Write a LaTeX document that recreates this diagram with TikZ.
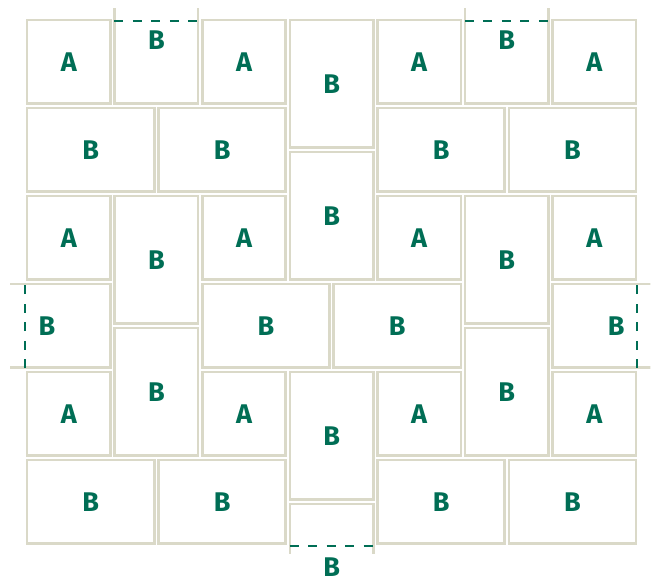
\documentclass[tikz,border=0pt]{standalone}
\usepackage{fontspec}
\setsansfont{Fira Sans}
\definecolor{verd}{RGB}{0,110,85}
\definecolor{beix}{RGB}{218,217,200}

\begin{document}
\begin{tikzpicture}[x=87.6pt, y=88pt,
    rajola/.style={draw=beix, line width=2.6pt},
    tall/.style={verd, line width=2.2pt, dash pattern=on 9pt off 9.5pt},
    lletra/.style={text=verd, inner sep=0pt, font=\sffamily\bfseries\fontsize{27}{27}\selectfont}]
    \useasboundingbox (-0.2854,-0.3977) rectangle (7.2032,6.2045);

    % Rajoles A (quadrades)
    \foreach \x/\y [count=\i] in {0/5,2/5,4/5,6/5,0/3,2/3,4/3,6/3,0/1,2/1,4/1,6/1} {
        \draw[rajola] (\x+0.025,\y+0.025) rectangle (\x+0.975,\y+0.975);
        \node[lletra] (A\i) at (\x+0.5,\y+0.5) {A};
    }

    % Rajoles B senceres
    \foreach \xa/\ya/\xb/\yb [count=\i] in {0/4/1.5/5, 1.5/4/3/5, 4/4/5.5/5, 5.5/4/7/5,
            0/0/1.5/1, 1.5/0/3/1, 4/0/5.5/1, 5.5/0/7/1,
            2/2/3.5/3, 3.5/2/5/3,
            1/2.5/2/4, 1/1/2/2.5, 5/2.5/6/4, 5/1/6/2.5,
            3/4.5/4/6, 3/3/4/4.5, 3/0.5/4/2} {
        \draw[rajola] (\xa+0.025,\ya+0.025) rectangle (\xb-0.025,\yb-0.025);
        \node[lletra] (B\i) at ({(\xa+\xb)/2},{(\ya+\yb)/2}) {B};
    }

    % Rajoles B tallades per la vora
    \begin{scope}
        \clip (0.9,4.9) rectangle (2.1,6.11);
        \draw[rajola] (1.025,5.025) rectangle (1.975,6.475);
    \end{scope}
    \begin{scope}
        \clip (4.9,4.9) rectangle (6.1,6.11);
        \draw[rajola] (5.025,5.025) rectangle (5.975,6.475);
    \end{scope}
    \begin{scope}
        \clip (-0.17,1.9) rectangle (1.1,3.1);
        \draw[rajola] (-0.475,2.025) rectangle (0.975,2.975);
    \end{scope}
    \begin{scope}
        \clip (5.9,1.9) rectangle (7.14,3.1);
        \draw[rajola] (6.025,2.025) rectangle (7.475,2.975);
    \end{scope}
    \begin{scope}
        \clip (2.9,-0.08) rectangle (4.1,0.6);
        \draw[rajola] (3.025,-0.975) rectangle (3.975,0.475);
    \end{scope}

    % Talls
    \draw[tall] (1.02,5.97) -- (1.98,5.97);
    \draw[tall] (5.02,5.97) -- (5.98,5.97);
    \draw[tall] (0,2.02) -- (0,2.98);
    \draw[tall] (6.99,2.02) -- (6.99,2.98);
    \draw[tall] (3.02,0) -- (3.98,0);

    \node[lletra] (Bt1) at (1.5,5.75) {B};
    \node[lletra] (Bt2) at (5.5,5.75) {B};
    \node[lletra] (Bt3) at (0.25,2.5) {B};
    \node[lletra] (Bt4) at (6.75,2.5) {B};
    \node[lletra] (Bt5) at (3.5,-0.235) {B};
\end{tikzpicture}
\end{document}
